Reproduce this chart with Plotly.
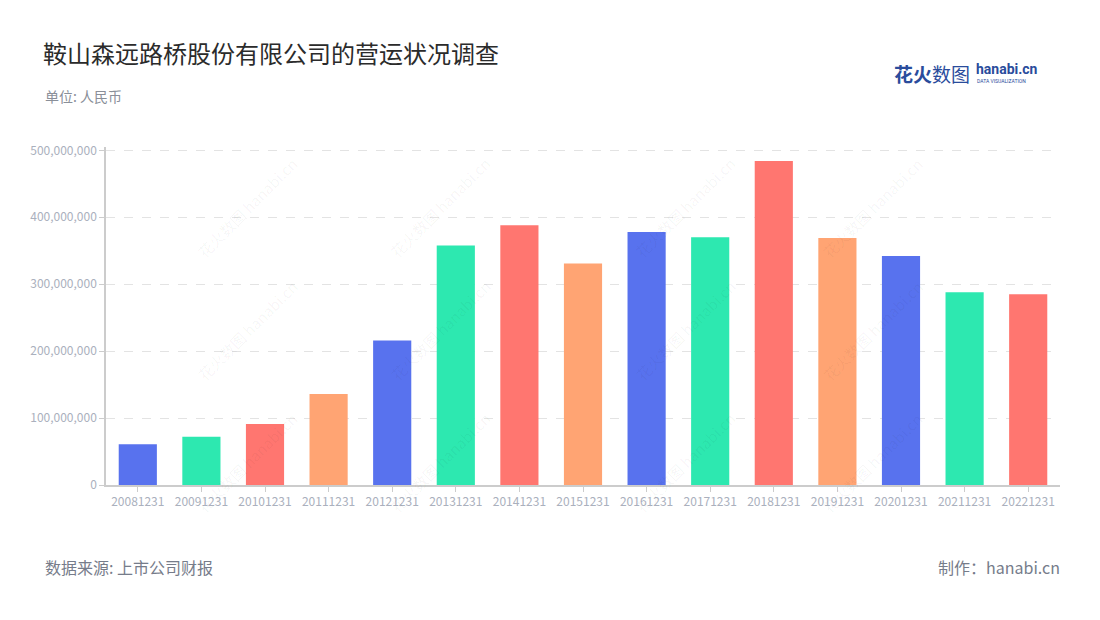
import plotly.graph_objects as go

categories = ["20081231", "20091231", "20101231", "20111231", "20121231", "20131231",
              "20141231", "20151231", "20161231", "20171231", "20181231", "20191231",
              "20201231", "20211231", "20221231"]
revenue = [61e6, 72e6, 91e6, 136e6, 216e6, 358e6, 388e6, 331e6, 378e6, 370e6,
           484e6, 369e6, 342e6, 288e6, 285e6]
palette = ["#5872EE", "#2DE8B0", "#FF7670", "#FFA473"]
y_ticks = [0, 100e6, 200e6, 300e6, 400e6, 500e6]

colors = [palette[i % 4] for i in range(len(categories))]
font = "Noto Sans CJK SC"

W, H = 1100, 620
y_max = 505e6
plot_l, plot_r, plot_b = 106, 1060, 485
plot_h = (485 - 150) * y_max / 500e6
plot_t = plot_b - plot_h

fig = go.Figure(go.Bar(x=categories, y=revenue, marker=dict(color=colors, line=dict(width=0)),
                       hoverinfo="x+y"))

fig.update_layout(
    width=W, height=H,
    paper_bgcolor="white", plot_bgcolor="white",
    margin=dict(l=plot_l, r=W - plot_r, t=plot_t, b=H - plot_b, pad=0),
    bargap=0.4,
    showlegend=False,
    font=dict(family=font),
    title=dict(text="鞍山森远路桥股份有限公司的营运状况调查", x=43 / W, y=1 - 55 / H,
               xref="container", yref="container", xanchor="left", yanchor="middle",
               font=dict(size=24, color="#2b2b2b", family=font)),
    xaxis=dict(type="category", showgrid=False, showline=True, linecolor="#cccccc", linewidth=1.5,
               ticks="outside", ticklen=5, tickcolor="#cccccc",
               tickfont=dict(size=12, color="#aab0bd", family=font)),
    yaxis=dict(range=[0, y_max], tickvals=y_ticks, tickformat=",d",
               showgrid=True, gridcolor="#e3e3e3", griddash="dash", gridwidth=1,
               showline=True, linecolor="#cccccc", linewidth=1.5,
               ticks="outside", ticklen=5, tickcolor="#cccccc",
               zeroline=False,
               tickfont=dict(size=12, color="#aab0bd", family=font)),
)

def px_to_paper(xp, yp):
    return (xp - plot_l) / (plot_r - plot_l), (plot_b - yp) / (plot_b - plot_t)

anns = [
    dict(text="单位: 人民币", xpx=43, ypx=96, size=14, color="#8a8f99", anchor="left", fam=font),
    dict(text="数据来源: 上市公司财报", xpx=43, ypx=567, size=16, color="#767c8a", anchor="left", fam=font),
    dict(text="制作：hanabi.cn", xpx=1062, ypx=567, size=16, color="#767c8a", anchor="right", fam=font),
    dict(text="<b>花火</b>数图", xpx=892, ypx=73, size=19, color="#2a4c9c", anchor="left", fam=font),
    dict(text="<b>hanabi.cn</b>", xpx=974, ypx=69, size=14, color="#2a4c9c", anchor="left", fam="Roboto"),
    dict(text="DATA VISUALIZATION", xpx=975, ypx=81, size=5, color="#2a4c9c", anchor="left", fam="Roboto"),
]

annotations = []
for a in anns:
    xx, yy = px_to_paper(a["xpx"], a["ypx"])
    annotations.append(dict(text=a["text"], x=xx, y=yy, xref="paper", yref="paper",
                            xanchor=a["anchor"], yanchor="middle", showarrow=False,
                            font=dict(size=a["size"], color=a["color"], family=a["fam"])))

# faint watermarks
for wx in [150, 400, 645, 890]:
    for wy in [150, 330, 520]:
        xx, yy = px_to_paper(wx + 40, wy)
        annotations.append(dict(text="花火数图 hanabi.cn", x=xx, y=yy, xref="paper", yref="paper",
                                showarrow=False, textangle=-45,
                                font=dict(size=15, color="rgba(0,0,0,0.045)", family=font)))

fig.update_layout(annotations=annotations)
fig.write_html("out.html", config={"displayModeBar": False},
               post_script="document.body.style.margin='0';document.body.style.overflow='hidden';")
